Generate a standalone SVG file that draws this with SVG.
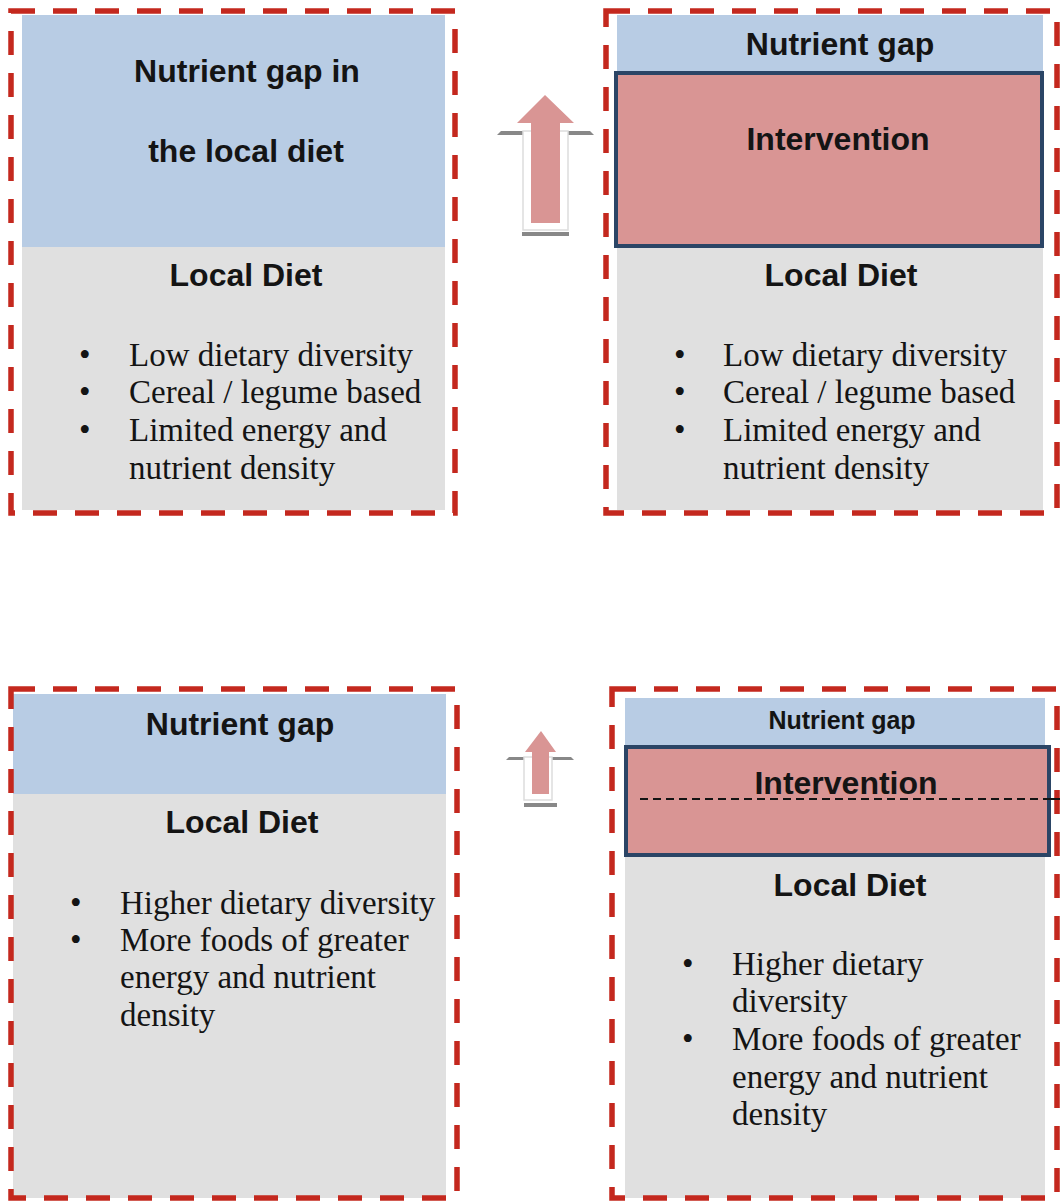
<svg xmlns="http://www.w3.org/2000/svg" width="1060" height="1202" viewBox="0 0 1060 1202">
<style>
.frame{fill:none;stroke:#c4281e;stroke-width:5.5;stroke-dasharray:24 18}
.blue{fill:#b8cce4}
.gray{fill:#e0e0e0}
.interv{fill:#d99594;stroke:#2b4566;stroke-width:4}
.t{font-family:"Liberation Sans",Arial,sans-serif;font-weight:bold;font-size:32px;fill:#141414;text-anchor:middle}
.s{font-family:"Liberation Serif","Times New Roman",serif;font-size:33px;fill:#141414}
.pink{fill:#d99594}
.bar{fill:#888888}
.wf{fill:#ffffff;stroke:#dddddd;stroke-width:1.5}
</style>
<rect width="1060" height="1202" fill="#ffffff"/>

<g id="panel-top-left">
<rect class="gray" x="22" y="15" width="423" height="495"/>
<rect class="blue" x="22" y="15" width="423" height="232"/>
<rect class="frame" x="11" y="11" width="444" height="502"/>
<text class="t" x="247" y="82">Nutrient gap in</text>
<text class="t" x="246" y="162">the local diet</text>
<text class="t" x="246" y="286">Local Diet</text>
<text class="s" x="79" y="366">•</text><text class="s" x="129" y="366">Low dietary diversity</text>
<text class="s" x="79" y="403">•</text><text class="s" x="129" y="403">Cereal / legume based</text>
<text class="s" x="79" y="441">•</text><text class="s" x="129" y="441">Limited energy and</text>
<text class="s" x="129" y="479">nutrient density</text>
</g>

<g id="arrow-top">
<polygon class="bar" points="497,135 501,131 523,131 523,135"/>
<polygon class="bar" points="568,131 590,131 594,135 568,135"/>
<rect class="bar" x="522" y="232" width="47" height="4"/>
<rect class="wf" x="523" y="131" width="45" height="99"/>
<polygon class="pink" points="545,95 574,123 560,123 560,223 531,223 531,123 517,123"/>
</g>

<g id="panel-top-right">
<rect class="gray" x="617" y="15" width="426" height="495"/>
<rect class="blue" x="617" y="15" width="426" height="57"/>
<rect class="interv" x="616" y="73" width="426" height="173"/>
<rect class="frame" x="606" y="11" width="451" height="502"/>
<text class="t" x="840" y="55">Nutrient gap</text>
<text class="t" x="838" y="150">Intervention</text>
<text class="t" x="841" y="286">Local Diet</text>
<text class="s" x="674" y="366">•</text><text class="s" x="723" y="366">Low dietary diversity</text>
<text class="s" x="674" y="403">•</text><text class="s" x="723" y="403">Cereal / legume based</text>
<text class="s" x="674" y="441">•</text><text class="s" x="723" y="441">Limited energy and</text>
<text class="s" x="723" y="479">nutrient density</text>
</g>

<g id="panel-bottom-left">
<rect class="gray" x="13" y="694" width="433" height="504"/>
<rect class="blue" x="13" y="694" width="433" height="100"/>
<rect class="frame" x="11" y="689" width="446" height="509"/>
<text class="t" x="240" y="735">Nutrient gap</text>
<text class="t" x="242" y="833">Local Diet</text>
<text class="s" x="70" y="914">•</text><text class="s" x="120" y="914">Higher dietary diversity</text>
<text class="s" x="70" y="951">•</text><text class="s" x="120" y="951">More foods of greater</text>
<text class="s" x="120" y="988">energy and nutrient</text>
<text class="s" x="120" y="1026">density</text>
</g>

<g id="arrow-bottom">
<polygon class="bar" points="506,760 509,757 524,757 524,760"/>
<polygon class="bar" points="552,757 571,757 574,760 552,760"/>
<rect class="bar" x="524" y="803" width="33" height="4"/>
<rect class="wf" x="524" y="757" width="28" height="43"/>
<polygon class="pink" points="541,731 556,752 549,752 549,794 532,794 532,752 525,752"/>
</g>

<g id="panel-bottom-right">
<rect class="gray" x="625" y="698" width="420" height="500"/>
<rect class="blue" x="625" y="698" width="420" height="48"/>
<rect class="interv" x="626" y="747" width="423" height="108"/>
<rect class="frame" x="612" y="689" width="445" height="509"/>
<text class="t" x="842" y="729" font-size="25" style="font-size:25px">Nutrient gap</text>
<text class="t" x="846" y="794">Intervention</text>
<text class="t" x="850" y="896">Local Diet</text>
<text class="s" x="682" y="975">•</text><text class="s" x="732" y="975">Higher dietary</text>
<text class="s" x="732" y="1012">diversity</text>
<text class="s" x="682" y="1050">•</text><text class="s" x="732" y="1050">More foods of greater</text>
<text class="s" x="732" y="1088">energy and nutrient</text>
<text class="s" x="732" y="1125">density</text>
</g>

<g id="connectors">
<line x1="640" y1="799" x2="1050" y2="799" stroke="#141414" stroke-width="2" stroke-dasharray="8 5"/>
<line x1="1050" y1="799" x2="1060" y2="799" stroke="#141414" stroke-width="2"/>
</g>
</svg>
